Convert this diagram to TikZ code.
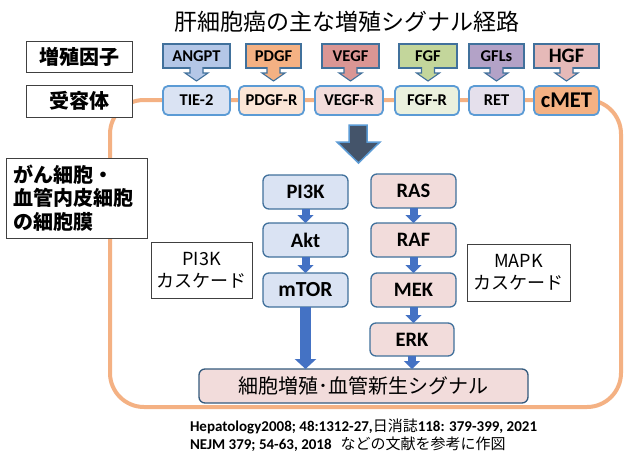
\documentclass[tikz,border=0pt]{standalone}
\usepackage{fontspec}
\setmainfont{Carlito}
\newfontfamily\jp{Noto Sans CJK JP}
\usetikzlibrary{arrows.meta}
\definecolor{memb}{RGB}{244,177,131}
\definecolor{bd}{RGB}{65,113,156}
\definecolor{rbd}{RGB}{91,155,213}
\definecolor{lb}{RGB}{218,227,243}
\definecolor{lp}{RGB}{242,220,219}
\definecolor{arr}{RGB}{68,114,196}
\definecolor{darr}{RGB}{68,84,106}
\definecolor{cangpt}{RGB}{180,199,231}
\definecolor{cpdgf}{RGB}{244,177,131}
\definecolor{cvegf}{RGB}{218,150,148}
\definecolor{cfgf}{RGB}{195,214,155}
\definecolor{cgfls}{RGB}{179,162,199}
\definecolor{chgf}{RGB}{230,185,184}
\definecolor{rtie}{RGB}{218,227,243}
\definecolor{rpdgf}{RGB}{251,229,214}
\definecolor{rvegf}{RGB}{242,220,219}
\definecolor{rfgf}{RGB}{235,241,222}
\definecolor{rret}{RGB}{229,224,236}
\definecolor{rcmet}{RGB}{244,177,131}
\newcommand\callarrow[2]{%
  \filldraw[fill=#2, draw=bd, line width=1.1pt]
    ([xshift=-6.5pt,yshift=0.8pt]#1.south) -- ++(0,5.8) -- ++(-5,0) -- ++(11.5,8)
    -- ++(11.5,-8) -- ++(-5,0) -- ++(0,-5.8);
}
\tikzset{
  every node/.style={inner sep=0pt, outer sep=0pt},
  gfbox/.style={draw=bd, line width=1.1pt, minimum height=24pt, font=\bfseries\fontsize{16.5}{16.5}\selectfont},
  rcbox/.style={draw=rbd, line width=1.8pt, rounded corners=5pt, minimum height=29pt, font=\bfseries\fontsize{16.5}{16.5}\selectfont},
  pbox/.style={draw=bd, line width=1.3pt, rounded corners=6pt, minimum width=85pt, minimum height=34pt, font=\bfseries\fontsize{20.5}{20.5}\selectfont},
  labbox/.style={draw=black!75, line width=0.9pt, fill=white},
  blk/.style={arr, line width=8pt, -{Triangle[width=16pt,length=8pt]}},
  bigblk/.style={arr, line width=11pt, -{Triangle[width=21pt,length=10pt]}},
}
\begin{document}
\begin{tikzpicture}[x=1pt,y=-1pt]
\useasboundingbox (0,0) rectangle (624,455);
\fill[white] (0,0) rectangle (624,455);

% membrane
\draw[memb, line width=4pt, rounded corners=34pt] (110,100) rectangle (621,407);

% title
\node[font=\jp\fontsize{23}{23}\selectfont] (title) at (347,22) {肝細胞癌の主な増殖シグナル経路};

% row labels
\node[labbox, minimum width=106pt, minimum height=31pt, font=\jp\bfseries\fontsize{20}{20}\selectfont] (gflab) at (79,56.5) {増殖因子};
\node[labbox, minimum width=106pt, minimum height=32pt, font=\jp\bfseries\fontsize{20}{20}\selectfont] (rclab) at (79,101) {受容体};

% growth factors
\node[gfbox, fill=cangpt, minimum width=67pt] (angpt) at (196.5,56) {ANGPT};
\node[gfbox, fill=cpdgf, minimum width=55pt] (pdgf) at (273.5,56) {PDGF};
\node[gfbox, fill=cvegf, minimum width=57pt] (vegf) at (350.5,56) {VEGF};
\node[gfbox, fill=cfgf, minimum width=58pt] (fgf) at (428,56) {FGF};
\node[gfbox, fill=cgfls, minimum width=55pt] (gfls) at (496.5,56) {GFLs};
\node[gfbox, fill=chgf, minimum width=65pt, font=\bfseries\fontsize{20.5}{20.5}\selectfont] (hgf) at (566.5,56) {HGF};
\callarrow{angpt}{cangpt}
\callarrow{pdgf}{cpdgf}
\callarrow{vegf}{cvegf}
\callarrow{fgf}{cfgf}
\callarrow{gfls}{cgfls}
\callarrow{hgf}{chgf}

% receptors
\node[rcbox, fill=rtie, minimum width=67pt] (tie) at (196.5,100.5) {TIE-2};
\node[rcbox, fill=rpdgf, minimum width=65pt] (pdgfr) at (271.5,100.5) {PDGF-R};
\node[rcbox, fill=rvegf, minimum width=68pt] (vegfr) at (349,100.5) {VEGF-R};
\node[rcbox, fill=rfgf, minimum width=64pt] (fgfr) at (427,100.5) {FGF-R};
\node[rcbox, fill=rret, minimum width=55pt] (ret) at (496.5,100.5) {RET};
\node[rcbox, fill=rcmet, minimum width=65pt, font=\bfseries\fontsize{22.5}{22.5}\selectfont] (cmet) at (566.5,100.5) {cMET};

% big dark arrow
\filldraw[fill=darr, draw=rbd, line width=1.5pt, line join=miter]
  (349,125) -- (367,125) -- (367,142) -- (380,142) -- (358.5,163) -- (337,142) -- (349,142) -- cycle;

% membrane label
\node[labbox, anchor=north west, minimum width=141pt, minimum height=80pt, text width=127pt, align=left,
      font=\jp\bfseries\fontsize{20}{23.5}\selectfont] (memlab) at (6,158) {がん細胞・\\血管内皮細胞\\の細胞膜};

% PI3K pathway
\node[pbox, fill=lb] (pi3k) at (305.5,192) {PI3K};
\node[pbox, fill=lb] (akt) at (305.5,240) {Akt};
\node[pbox, fill=lb, font=\bfseries\fontsize{21.5}{21.5}\selectfont] (mtor) at (305.5,290) {mTOR};
% MAPK pathway
\node[pbox, fill=lp] (ras) at (413.5,191) {RAS};
\node[pbox, fill=lp] (raf) at (413.5,240) {RAF};
\node[pbox, fill=lp] (mek) at (413.5,290) {MEK};
\node[pbox, fill=lp, minimum width=84pt, minimum height=33pt] (erk) at (412,339.5) {ERK};
% final
\node[pbox, fill=lp, draw=bd!80!black, minimum width=329pt, font=\jp\fontsize{20}{20}\selectfont] (final) at (363.5,386) {細胞増殖･血管新生シグナル};

% cascade labels
\node[labbox, minimum width=101pt, minimum height=56pt, align=center, font=\jp\fontsize{18}{22}\selectfont] (pi3klab) at (201.5,270) {PI3K\\カスケード};
\node[labbox, minimum width=103pt, minimum height=57pt, align=center, font=\jp\fontsize{18}{22}\selectfont] (mapklab) at (518.5,272.5) {MAPK\\カスケード};

% connectors
\draw[blk] (pi3k.south) -- (akt.north);
\draw[blk] (akt.south) -- (mtor.north);
\draw[blk] (ras.south) -- (raf.north);
\draw[blk] (raf.south) -- (mek.north);
\draw[blk] (mek.south) -- (mek.south |- erk.north);
\draw[blk] (erk.south) -- (erk.south |- final.north);
\draw[bigblk] (mtor.south) -- (mtor.south |- final.north);

% footer
\node[anchor=west, align=left, font=\bfseries\fontsize{15}{18}\selectfont] (ref) at (190,435)
  {Hepatology2008; 48:1312-27,{\jp\mdseries 日消誌}118: 379-399, 2021\\NEJM 379; 54-63, 2018\hspace{9pt}{\jp\mdseries などの文献を参考に作図}};
\end{tikzpicture}
\end{document}
